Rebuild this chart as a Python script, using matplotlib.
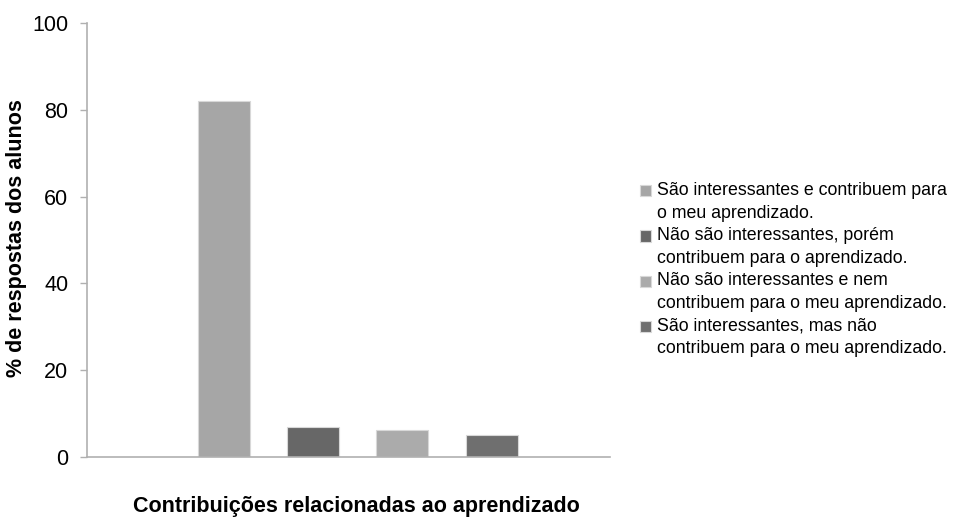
import numpy as np
import matplotlib.pyplot as plt
from matplotlib.patches import Rectangle
from matplotlib.legend_handler import HandlerPatch

plt.rcParams['font.family'] = ['Liberation Sans', 'DejaVu Sans']

# respostas (%) por categoria
labels = ['São interessantes e contribuem para\no meu aprendizado.',
          'Não são interessantes, porém\ncontribuem para o aprendizado.',
          'Não são interessantes e nem\ncontribuem para o meu aprendizado.',
          'São interessantes, mas não\ncontribuem para o meu aprendizado.']
values = [82, 7, 6.2, 5]
colors = ['#a6a6a6', '#676767', '#ababab', '#6f6f6f']
yticks = [0, 20, 40, 60, 80, 100]


# square next to the first line of each entry, like the original
def top_square(legend, orig_handle, xdescent, ydescent, width, height, fontsize):
    return Rectangle((-xdescent, -ydescent + 0.62 * fontsize), width, height)


fig = plt.figure(figsize=(9.59, 5.17), dpi=100)
ax = fig.add_axes([0.0907, 0.116, 0.545, 0.8395])

x = np.arange(len(values))
bars = ax.bar(x, values, width=0.58, color=colors, edgecolor='#d8d8d8', linewidth=0.8, label=labels)

ax.set_xlim(-1.53, 4.32)
ax.set_ylim(0, 100)
ax.set_yticks(yticks)
ax.set_xticks([])
ax.tick_params(axis='y', labelsize=15.5, length=5, width=1, color='#b0b0b0', pad=8.5)

for s in ['top', 'right']:
    ax.spines[s].set_visible(False)
for s in ['left', 'bottom']:
    ax.spines[s].set_color('#b0b0b0')
    ax.spines[s].set_linewidth(1.2)

fig.text(17 / 959, 0.54, '% de respostas dos alunos', fontsize=15.5, fontweight='bold',
         rotation=90, ha='center', va='center')
fig.text(0.372, 0.02, 'Contribuições relacionadas ao aprendizado', fontsize=15.5,
         fontweight='bold', ha='center', va='center')

leg = fig.legend(handles=bars, labels=labels, loc='center left', bbox_to_anchor=(0.66, 0.479),
                 frameon=False, fontsize=12.8, handlelength=0.6, handleheight=0.6,
                 handletextpad=0.35, labelspacing=0.3, borderaxespad=0,
                 handler_map={b: HandlerPatch(patch_func=top_square) for b in bars})
for t in leg.get_texts():
    t.set_linespacing(1.45)

fig.savefig('out.png', dpi=100)
